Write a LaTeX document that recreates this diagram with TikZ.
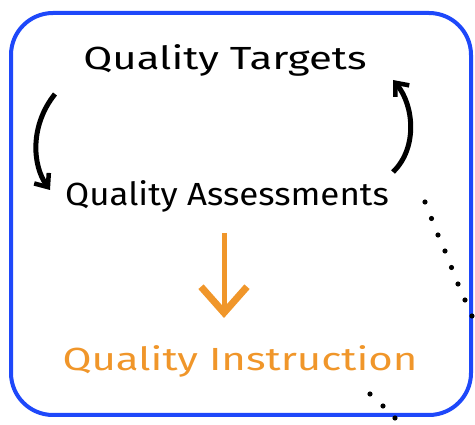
\documentclass[tikz,border=0pt]{standalone}
\usepackage{fontspec}
\setmainfont{Fira Sans}
\usetikzlibrary{arrows.meta}
\definecolor{boxblue}{RGB}{30,72,250}
\definecolor{qorange}{RGB}{240,150,42}
\tikzset{
  lbl/.style={font=\fontsize{32}{32}\selectfont, inner sep=0pt, anchor=center},
  cyc/.style={line width=5pt, -{Straight Barb[length=11pt,width=18pt,line width=4.5pt]}},
  dotc/.style={fill=black, draw=none},
}
\begin{document}
\begin{tikzpicture}[x=1pt,y=-1pt]
\useasboundingbox (0,0) rectangle (475,425);
\draw[boxblue, line width=4pt, rounded corners=42pt] (11,13) rectangle (471,415);
\node[lbl] (tgt) at (225,60) {\scalebox{1.31}[1]{Quality Targets}};
\node[lbl] (asm) at (227,196) {\scalebox{1.09}[1]{Quality Assessments}};
\node[lbl, text=qorange] (ins) at (240,361) {\scalebox{1.31}[1]{Quality Instruction}};
\coordinate (l1) at (55,94);
\coordinate (l2) at (50,190);
\coordinate (r1) at (393,172);
\coordinate (r2) at (393,80);
\draw[cyc] (l1) .. controls (30,125) and (32,165) .. (l2);
\draw[cyc] (r1) .. controls (418,148) and (414,105) .. (r2);
\coordinate (o1) at (224,233);
\coordinate (o2) at (224,318);
\draw[qorange, line width=5pt, -{Straight Barb[length=26pt,width=46pt,line width=7pt]}] (o1) -- (o2);
\foreach \x/\y in {425/202,431.5/218.5,438/235,445/251,451.5/267.5,458/284,465/300,472/316,370/394,383/406,395/418}
  \fill[dotc] (\x,\y) circle (2.6pt);
\end{tikzpicture}
\end{document}
